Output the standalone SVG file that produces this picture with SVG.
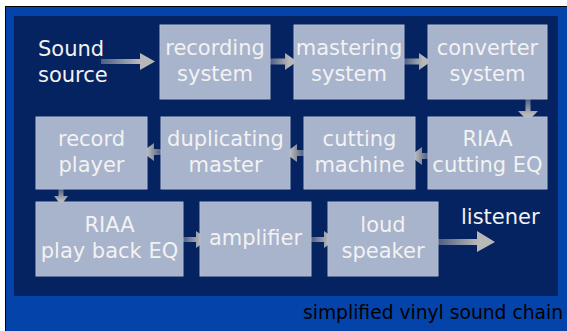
<svg xmlns="http://www.w3.org/2000/svg" width="567" height="331" viewBox="0 0 567 331">
<defs>
<linearGradient id="gr" x1="0" y1="0" x2="1" y2="0"><stop offset="0" stop-color="#b8b8b8" stop-opacity="0.4"/><stop offset="0.7" stop-color="#b8b8b8"/></linearGradient>
<linearGradient id="gl" x1="1" y1="0" x2="0" y2="0"><stop offset="0" stop-color="#b8b8b8" stop-opacity="0.4"/><stop offset="0.7" stop-color="#b8b8b8"/></linearGradient>
<linearGradient id="gd" x1="0" y1="0" x2="0" y2="1"><stop offset="0" stop-color="#b8b8b8" stop-opacity="0.4"/><stop offset="0.7" stop-color="#b8b8b8"/></linearGradient>
</defs>
<style>
.box{fill:#a8b3cc;stroke:#b3bdd4;stroke-width:1}
.t{font-family:"DejaVu Sans",sans-serif;font-size:21px;fill:#f2f2f2;text-anchor:middle}
.tl{font-family:"DejaVu Sans",sans-serif;font-size:21px;fill:#f2f2f2}
.cap{font-family:"DejaVu Sans",sans-serif;font-size:18.7px;fill:#000;text-anchor:end}
</style>
<rect x="0" y="0" width="567" height="331" fill="#ffffff"/>
<rect x="5.5" y="6.5" width="562" height="326" fill="#0444aa" stroke="#000" stroke-width="1"/>
<rect x="14" y="16" width="544" height="280" fill="#052360"/>
<text class="cap" x="563" y="319">simplified vinyl sound chain</text>

<g id="connectors">
<path fill="url(#gr)" d="M101,59 L140,59 L140,53 L155,61.5 L140,70 L140,64 L101,64 Z"/>
<path fill="url(#gr)" d="M270,58.5 L285,58.5 L285,53 L297,61.5 L285,70 L285,64.5 L270,64.5 Z"/>
<path fill="url(#gr)" d="M404,58.5 L419,58.5 L419,53 L431,61.5 L419,70 L419,64.5 L404,64.5 Z"/>
<path fill="url(#gd)" d="M525.5,99 L525.5,111 L518,111 L528,121 L538,111 L530.5,111 L530.5,99 Z"/>
<path fill="url(#gl)" d="M428,153 L422,153 L422,147 L410,156 L422,165 L422,159 L428,159 Z"/>
<path fill="url(#gl)" d="M304,150 L297,150 L297,144 L285,153 L297,162 L297,156 L304,156 Z"/>
<path fill="url(#gl)" d="M161,149 L154,149 L154,143 L142,152 L154,161 L154,155 L161,155 Z"/>
<path fill="url(#gd)" d="M58.5,189 L58.5,196 L54,196 L61,205 L68,196 L63.5,196 L63.5,189 Z"/>
<path fill="url(#gr)" d="M183,237 L196,237 L196,231 L208,239.5 L196,248 L196,242 L183,242 Z"/>
<path fill="url(#gr)" d="M311,237 L324,237 L324,231 L336,239.5 L324,248 L324,242 L311,242 Z"/>
<path fill="url(#gr)" d="M438,239 L477,239 L477,231 L495,242 L477,252 L477,245 L438,245 Z"/>
</g>

<g id="sound-source"><text class="tl" x="38" y="56">Sound</text><text class="tl" x="38" y="82">source</text></g>
<g id="recording-system"><rect class="box" x="160" y="25" width="110" height="74"/><text class="t" x="215" y="55">recording</text><text class="t" x="215" y="81">system</text></g>
<g id="mastering-system"><rect class="box" x="294" y="25" width="110" height="74"/><text class="t" x="349" y="55">mastering</text><text class="t" x="349" y="81">system</text></g>
<g id="converter-system"><rect class="box" x="428" y="25" width="119" height="74"/><text class="t" x="487.5" y="55">converter</text><text class="t" x="487.5" y="81">system</text></g>
<g id="riaa-cutting-eq"><rect class="box" x="428" y="117" width="119" height="72"/><text class="t" x="487.5" y="146">RIAA</text><text class="t" x="487.5" y="172">cutting EQ</text></g>
<g id="cutting-machine"><rect class="box" x="304" y="117" width="111" height="72"/><text class="t" x="359.5" y="146">cutting</text><text class="t" x="359.5" y="172">machine</text></g>
<g id="duplicating-master"><rect class="box" x="161" y="117" width="129" height="72"/><text class="t" x="225.5" y="146">duplicating</text><text class="t" x="225.5" y="172">master</text></g>
<g id="record-player"><rect class="box" x="36" y="117" width="111" height="72"/><text class="t" x="91.5" y="146">record</text><text class="t" x="91.5" y="172">player</text></g>
<g id="riaa-playback-eq"><rect class="box" x="36" y="202" width="147" height="74"/><text class="t" x="109.5" y="232">RIAA</text><text class="t" x="109.5" y="258">play back EQ</text></g>
<g id="amplifier"><rect class="box" x="200" y="202" width="111" height="74"/><text class="t" x="255.5" y="245">amplifier</text></g>
<g id="loud-speaker"><rect class="box" x="328" y="202" width="110" height="74"/><text class="t" x="383" y="232">loud</text><text class="t" x="383" y="258">speaker</text></g>
<g id="listener"><text class="tl" x="461" y="224">listener</text></g>
</svg>
